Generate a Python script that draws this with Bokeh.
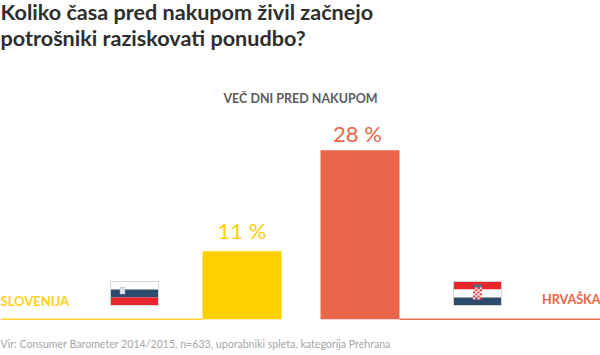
from bokeh.plotting import figure
from bokeh.embed import file_html
from bokeh.resources import INLINE
from bokeh.core.properties import value
from bokeh.models import ColumnDataSource

countries = ["SLOVENIJA", "HRVAŠKA"]
shares = [11.1, 27.6]
share_labels = ["11 %", "28 %"]
bar_colors = ["#FFD000", "#E9664A"]
line_colors = ["#FFD23C", "#EA6F55"]
title_lines = ["Koliko časa pred nakupom živil začnejo", "potrošniki raziskovati ponudbo?"]
subtitle = "VEČ DNI PRED NAKUPOM"
source_text = "Vir: Consumer Barometer 2014/2015, n=633, uporabniki spleta, kategorija Prehrana"

W, H = 600, 355
BASE = 318.7
SCALE = 6.12
def py(y):
    return (BASE - y) / SCALE

p = figure(width=W, height=H, x_range=(0, W), y_range=(py(H), py(0)),
           output_backend="svg", toolbar_location=None, min_border=0,
           background_fill_color="white", border_fill_color="white", outline_line_color=None)
p.xaxis.visible = False
p.yaxis.visible = False
p.grid.visible = False

# bars
src = ColumnDataSource(dict(l=[202, 320], r=[281, 399], t=shares, c=bar_colors))
p.quad(left="l", right="r", top="t", bottom=0, fill_color="c", line_color=None, source=src)

# baselines
p.segment([0, 399], [0, 0], [202, 600], [0, 0], line_color=line_colors, line_width=1.5)

def txt(x, y, s, color, size, font, style="normal", align="left"):
    # the browser's svg text lands lower than the requested baseline, in proportion to its size
    p.text([x], [py(y - 0.38 * size)], text=[s], text_color=color, text_font_size=f"{size}px",
           text_font=value(font), text_font_style=style, text_align=align, text_baseline="alphabetic")

TF = "Lato"
txt(0, 19.5, title_lines[0], "#2E2E2E", 21.6, TF, "bold")
txt(0, 45.5, title_lines[1], "#2E2E2E", 21.6, TF, "bold")
txt(300, 103, subtitle, "#5A5C60", 12.5, TF, "bold", "center")
txt(241.5, 238, share_labels[0], bar_colors[0], 22, TF, "normal", "center")
txt(357, 141, share_labels[1], bar_colors[1], 22, TF, "normal", "center")
txt(0, 305, countries[0], "#FFCE1E", 13, TF, "bold")
txt(600, 304, countries[1], bar_colors[1], 12.6, TF, "bold", "right")
txt(0, 348, source_text, "#A6A6A6", 10.6, TF)

def stripes(x0, x1, y0, y1, cols):
    h = (y1 - y0) / 3
    for i, c in enumerate(cols):
        p.quad([x0], [x1], [py(y0 + i * h)], [py(y0 + (i + 1) * h)], fill_color=c, line_color=None)
    p.quad([x0], [x1], [py(y0)], [py(y1)], fill_color=None, line_color="#D5D5D5", line_width=1)

# Slovenia
stripes(110, 158, 281, 305, ["#FFFFFF", "#2E4A6B", "#E9262B"])
p.quad([119.5], [124.5], [py(287)], [py(293.5)], fill_color="#DCE6EE", line_color="#9FB0C4", line_width=0.5)
# Croatia
stripes(453, 501, 281, 305, ["#E9262B", "#FFFFFF", "#2E4A6B"])
p.quad([472.5], [481.5], [py(284)], [py(287)], fill_color="#5A6A80", line_color=None)
for r in range(6):
    for c in range(4):
        col = "#D9383E" if (r + c) % 2 == 0 else "#FBE4E4"
        p.quad([472.5 + c * 2.25], [472.5 + (c + 1) * 2.25], [py(287 + r * 2)], [py(287 + (r + 1) * 2)],
               fill_color=col, line_color=None)

open("out.html", "w").write(file_html(p, INLINE))
